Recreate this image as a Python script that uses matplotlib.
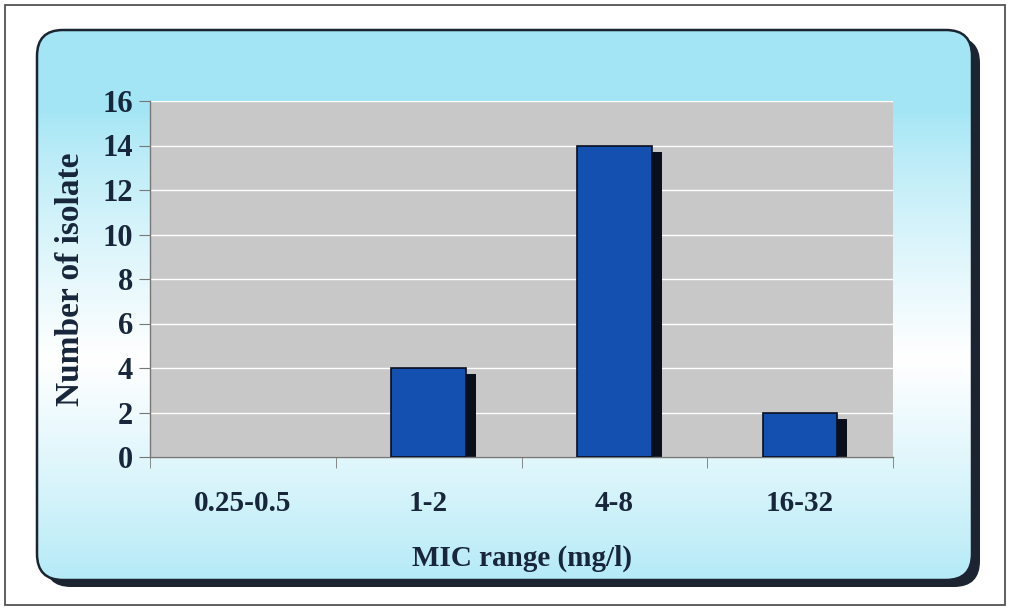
import numpy as np
import matplotlib.pyplot as plt
from matplotlib.patches import FancyBboxPatch, Rectangle

categories = ['0.25-0.5', '1-2', '4-8', '16-32']
counts = [0, 4, 14, 2]
yticks = [0, 2, 4, 6, 8, 10, 12, 14, 16]

W, H = 1011, 611
fig = plt.figure(figsize=(W / 100, H / 100), dpi=100)
fig.patch.set_facecolor('white')

# background layer in pixel coords
bg = fig.add_axes([0, 0, 1, 1])
bg.set_xlim(0, W)
bg.set_ylim(H, 0)
bg.axis('off')

# outer thin frame
bg.add_patch(Rectangle((5, 5), 1000, 600, fill=False, ec='#444444', lw=1.2))

# panel shadow
shadow = FancyBboxPatch((45, 37), 935, 550, boxstyle='round,pad=0,rounding_size=26',
                        fc='#1b2430', ec='none')
bg.add_patch(shadow)

panel = FancyBboxPatch((37, 30), 935, 550, boxstyle='round,pad=0,rounding_size=26',
                       fc='none', ec='#1b2430', lw=1.8)
# gradient cyan -> white -> cyan
t = np.linspace(0, 1, 256)
g = np.clip(1 - np.abs(t - 0.6) * 2.2, 0, 1)
top = np.array([0.64, 0.90, 0.96])
mid = np.array([1.0, 1.0, 1.0])
grad = top[None, :] + (mid - top)[None, :] * (g[:, None] ** 0.8)
img = np.repeat(grad[:, None, :], 2, axis=1)
im = bg.imshow(img, extent=(37, 972, 580, 30), aspect='auto', zorder=1,
               interpolation='bilinear')
bg.add_patch(panel)
panel.set_zorder(2)
clip = FancyBboxPatch((37, 30), 935, 550, boxstyle='round,pad=0,rounding_size=26',
                      fc='none', ec='none', transform=bg.transData)
bg.add_patch(clip)
im.set_clip_path(clip)

# chart axes
x0, x1, y0, y1 = 150, 893, 101, 457
ax = fig.add_axes([x0 / W, 1 - y1 / H, (x1 - x0) / W, (y1 - y0) / H])
ax.set_facecolor('#c8c8c8')
ax.set_xlim(-0.5, len(categories) - 0.5)
ax.set_ylim(0, 16)

xpos = np.arange(len(categories))
bw = 0.4
for x, v in zip(xpos, counts):
    if v > 0:
        ax.bar(x + 0.055, v - 0.28, width=bw, color='#0a0f1e', zorder=2)
        ax.bar(x, v, width=bw, color='#1450b0', edgecolor='#0a0f1e', lw=1.2, zorder=3)

ax.set_yticks(yticks)
ax.grid(axis='y', color='white', lw=1.0, zorder=1)
ax.set_axisbelow(True)
ax.set_xticks(xpos)
ax.set_xticklabels(categories)
ax.set_xticks(np.arange(len(categories) + 1) - 0.5, minor=True)
ax.tick_params(axis='x', which='major', length=0, pad=24)
ax.tick_params(axis='x', which='minor', length=8, color='#777777', direction='out')
ax.tick_params(axis='y', length=8, color='#777777', pad=4)
for s in ['top', 'right']:
    ax.spines[s].set_visible(False)
for s in ['left', 'bottom']:
    ax.spines[s].set_color('#777777')
    ax.spines[s].set_linewidth(1.0)

font = dict(family='Liberation Serif', weight='bold', color='#17263a')
for lab in ax.get_yticklabels():
    lab.set(fontsize=22, **font)
for lab in ax.get_xticklabels():
    lab.set(fontsize=21, **font)
ax.set_xlabel('MIC range (mg/l)', fontsize=21, labelpad=20, **font)
ax.set_ylabel('Number of isolate', fontsize=24, labelpad=12, **font)

fig.savefig('out.png', dpi=100)
